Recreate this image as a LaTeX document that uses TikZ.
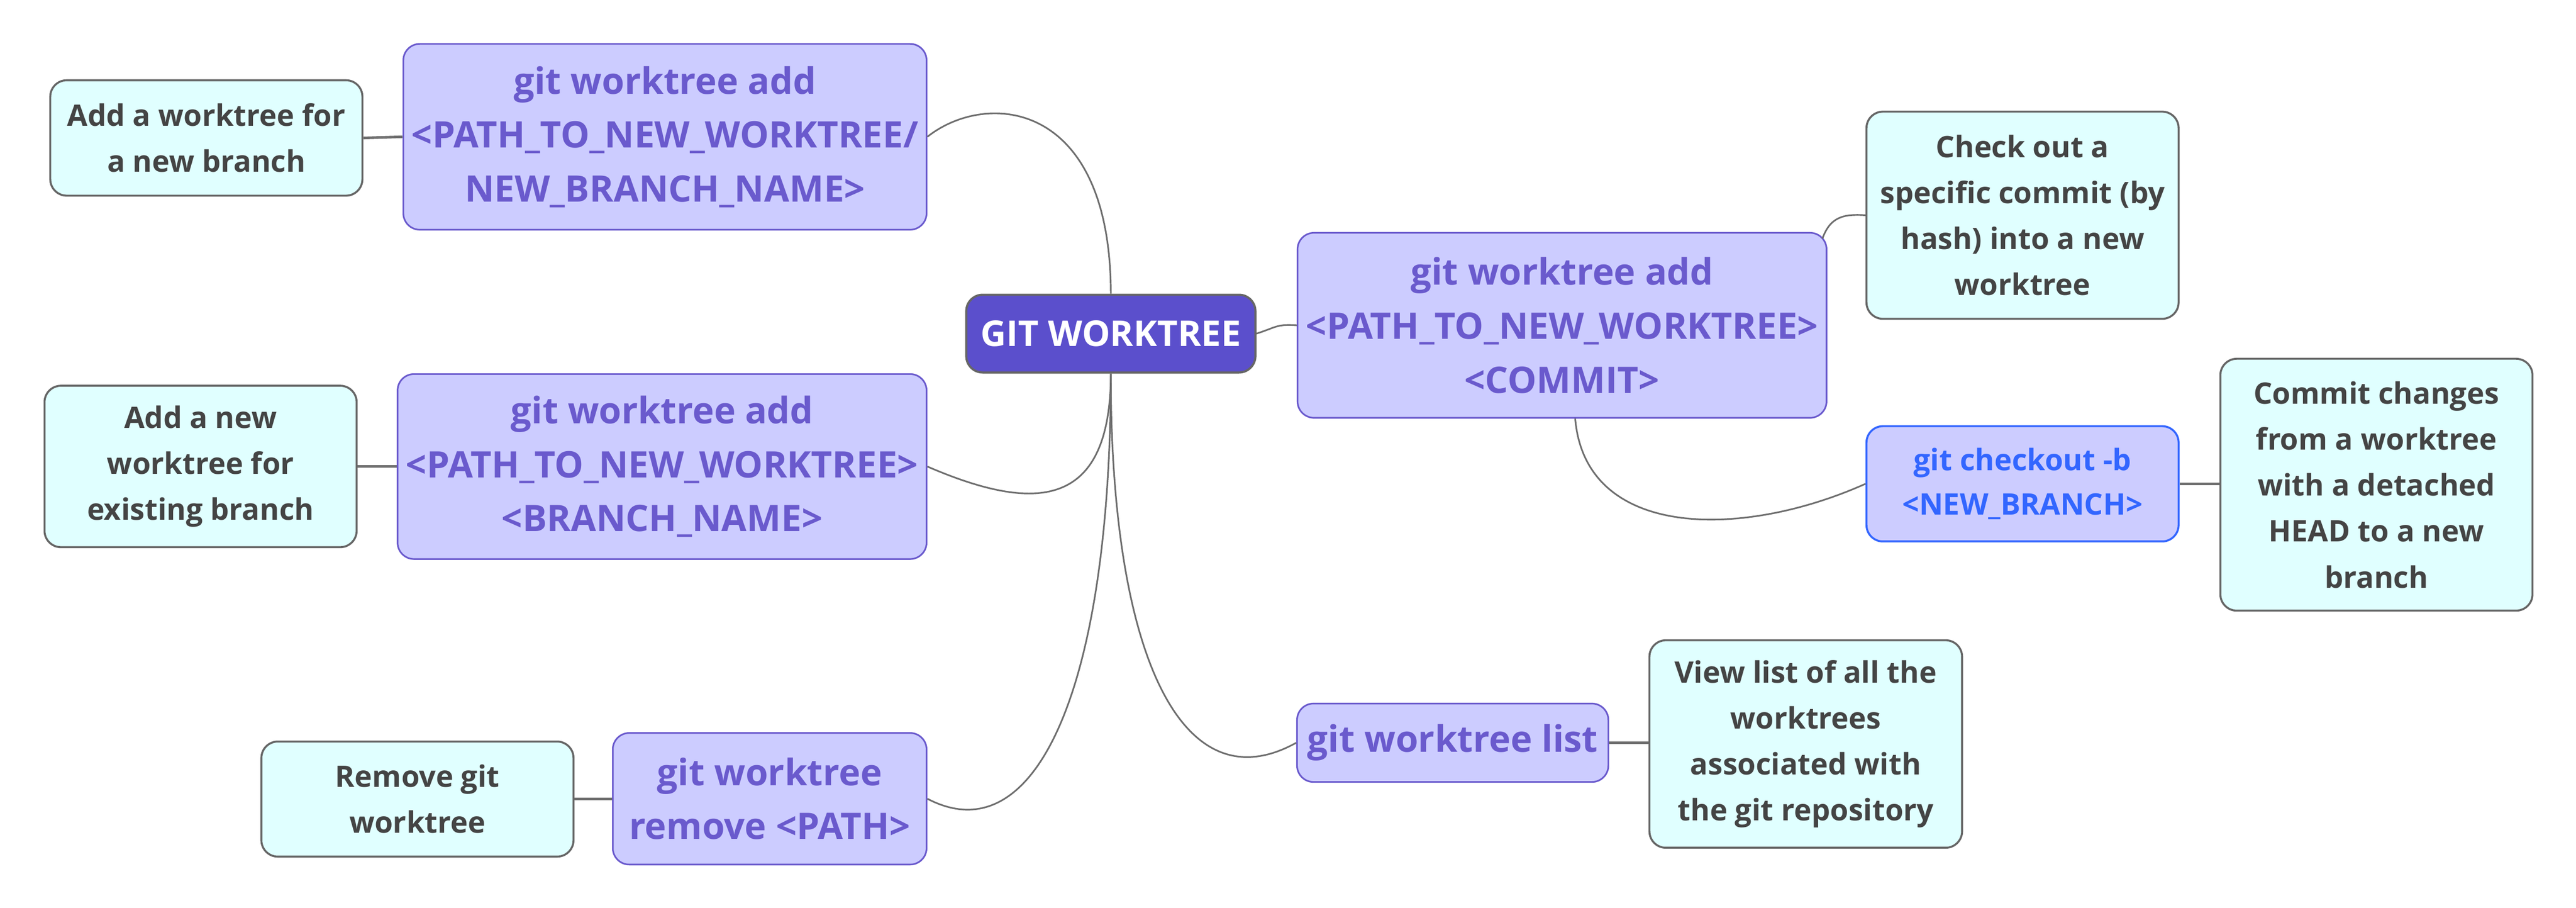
\documentclass[tikz,border=0pt]{standalone}
\usepackage{fontspec}
\setmainfont{Open Sans}
\definecolor{mainfill}{RGB}{204,204,255}
\definecolor{mainborder}{RGB}{106,90,205}
\definecolor{maintext}{RGB}{106,90,205}
\definecolor{rootfill}{RGB}{91,79,204}
\definecolor{leaffill}{RGB}{224,255,255}
\definecolor{leafborder}{RGB}{102,102,102}
\definecolor{leaftext}{RGB}{68,68,68}
\definecolor{bluetext}{RGB}{51,102,255}
\definecolor{linkcol}{RGB}{110,110,110}
\begin{document}
\begin{tikzpicture}[x=1pt,y=-1pt,
  every node/.style={inner sep=0pt, align=center, anchor=north west},
  mainbox/.style={draw=mainborder, fill=mainfill, text=maintext, rounded corners=10pt, line width=1pt,
    font=\fontsize{22.2}{32.8}\selectfont\bfseries},
  rootbox/.style={draw=leafborder, fill=rootfill, text=white, rounded corners=10pt, line width=1.3pt,
    font=\fontsize{21.6}{24}\selectfont\bfseries},
  leafbox/.style={draw=leafborder, fill=leaffill, text=leaftext, rounded corners=10pt, line width=1.2pt,
    font=\fontsize{18}{28}\selectfont\bfseries},
  bluebox/.style={draw=bluetext, fill=mainfill, text=bluetext, rounded corners=10pt, line width=1.2pt,
    font=\fontsize{18}{27}\selectfont\bfseries},
  curvelink/.style={draw=linkcol, line width=1pt},
  straightlink/.style={draw=linkcol, line width=1.6pt}]
\useasboundingbox (0,0) rectangle (1568,552);

% nodes
\node[rootbox, minimum width=176pt, minimum height=47.3pt] (root) at (587.5,178.6) {GIT WORKTREE};

\node[mainbox, minimum width=318.5pt, minimum height=113pt] (A) at (245,26.2)
  {git worktree add\\<PATH\_TO\_NEW\_WORKTREE/\\NEW\_BRANCH\_NAME>};
\node[leafbox, minimum width=190pt, minimum height=70.2pt] (lA) at (30,48.2)
  {Add a worktree for\\a new branch};

\node[mainbox, minimum width=322pt, minimum height=112.5pt] (B) at (241.5,227)
  {git worktree add\\<PATH\_TO\_NEW\_WORKTREE>\\<BRANCH\_NAME>};
\node[leafbox, minimum width=190pt, minimum height=98.2pt] (lB) at (26.5,234)
  {Add a new\\worktree for\\existing branch};

\node[mainbox, minimum width=191pt, minimum height=80pt] (C) at (372.5,445.3)
  {git worktree\\remove <PATH>};
\node[leafbox, minimum width=190pt, minimum height=70pt] (lC) at (158.5,450.4)
  {Remove git\\worktree};

\node[mainbox, minimum width=322pt, minimum height=112.5pt] (D) at (789.3,141.1)
  {git worktree add\\<PATH\_TO\_NEW\_WORKTREE>\\<COMMIT>};
\node[leafbox, minimum width=190pt, minimum height=126pt] (lD) at (1135.5,67.3)
  {Check out a\\specific commit (by\\hash) into a new\\worktree};
\node[bluebox, minimum width=190pt, minimum height=70.1pt] (D2) at (1135.5,258.6)
  {git checkout -b\\<NEW\_BRANCH>};
\node[leafbox, minimum width=190pt, minimum height=153.2pt] (lD2) at (1350.9,217.6)
  {Commit changes\\from a worktree\\with a detached\\HEAD to a new\\branch};

\node[mainbox, minimum width=189.5pt, minimum height=47.7pt] (E) at (789,427.4)
  {git worktree list};
\node[leafbox, minimum width=190.3pt, minimum height=126.2pt] (lE) at (1003.4,388.8)
  {View list of all the\\worktrees\\associated with\\the git repository};

% connectors
\draw[curvelink] (root.north) .. controls (676,60) and (600,55) .. (A.east);
\draw[curvelink] (root.south) .. controls (676,310) and (630,312) .. (B.east);
\draw[curvelink] (root.south) .. controls (676,420) and (630,520) .. (C.east);
\draw[curvelink] (root.south) .. controls (676,400) and (720,490) .. (E.west);
\draw[curvelink] (root.east) .. controls (777,199) and (777,197) .. (D.west);
\draw[curvelink] ([shift={(-3,4)}]D.north east) .. controls (1114,132) and (1122,130) .. (lD.west);
\draw[curvelink] ([xshift=8pt]D.south) .. controls (965,328) and (1060,328) .. (D2.west);

\draw[straightlink] (lA.east) -- (A.east -| A.west);
\draw[straightlink] (lB.east) -- (lB.east -| B.west);
\draw[straightlink] (lC.east) -- (lC.east -| C.west);
\draw[straightlink] (E.east) -- (E.east -| lE.west);
\draw[straightlink] (D2.east) -- (D2.east -| lD2.west);
\end{tikzpicture}
\end{document}
